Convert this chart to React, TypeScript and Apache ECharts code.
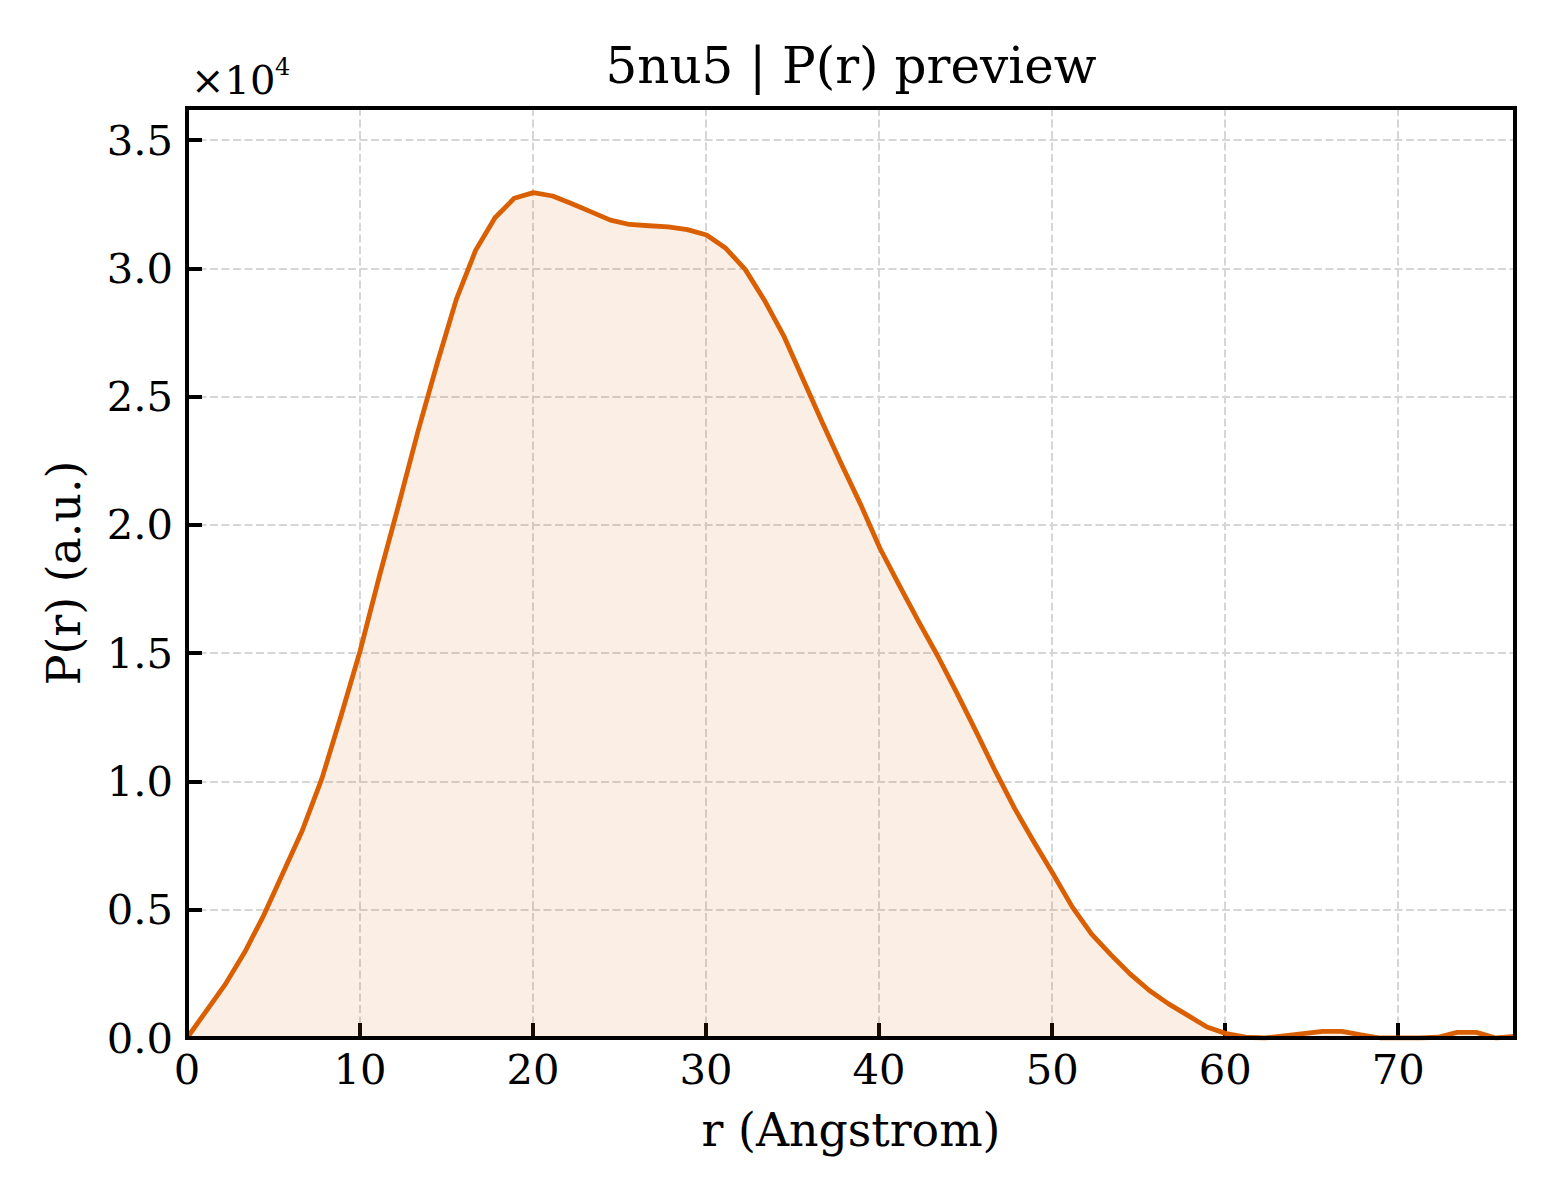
import React, { useEffect, useRef } from "react";
import * as echarts from "echarts";

const TITLE = "5nu5 | P(r) preview";
const X_LABEL = "r (Angstrom)";
const Y_LABEL = "P(r) (a.u.)";

// r grid (Angstrom)
const R = [
  0, 1.11, 2.22, 3.34, 4.45, 5.56, 6.67, 7.79, 8.9, 10.01,
  11.12, 12.24, 13.35, 14.46, 15.57, 16.68, 17.8, 18.91, 20.02, 21.13,
  22.25, 23.36, 24.47, 25.58, 26.7, 27.81, 28.92, 30.03, 31.14, 32.26,
  33.37, 34.48, 35.59, 36.71, 37.82, 38.93, 40.04, 41.16, 42.27, 43.38,
  44.49, 45.6, 46.72, 47.83, 48.94, 50.05, 51.17, 52.28, 53.39, 54.5,
  55.62, 56.73, 57.84, 58.95, 60.06, 61.18, 62.29, 63.4, 64.51, 65.63,
  66.74, 67.85, 68.96, 70.07, 71.19, 72.3, 73.41, 74.52, 75.64, 76.75,
];

// P(r) values (a.u.)
const P = [
  0, 1050, 2100, 3350, 4800, 6450, 8100, 10100, 12550, 15100,
  18000, 20800, 23650, 26300, 28800, 30700, 31970, 32730, 32950, 32820,
  32520, 32200, 31880, 31710, 31660, 31620, 31510, 31300, 30780, 29960,
  28760, 27380, 25700, 24000, 22370, 20800, 19100, 17650, 16250, 14900,
  13450, 11950, 10400, 8950, 7650, 6400, 5100, 4050, 3250, 2500,
  1850, 1330, 880, 430, 170, 30, 0, 80, 170, 260,
  260, 120, 0, 0, 0, 30, 220, 220, 0, 60,
];

const X_MIN = 0;
const X_MAX = 76.75;
const X_STEP = 10;
const Y_MIN = 0;
const Y_MAX = 36250;
const Y_STEP = 5000;

const LINE_COLOR = "#d95f02";
const FILL_COLOR = "rgba(217,95,2,0.15)";
const FONT = "'DejaVu Serif', 'Liberation Serif', serif";

const W = 1560;
const H = 1200;
const G_LEFT = 187;
const G_TOP = 108;
const G_RIGHT = 45;
const G_BOTTOM = 162;

export default function App() {
  const ref = useRef<HTMLDivElement>(null);

  useEffect(() => {
    document.body.style.margin = "0";
    if (!ref.current) return;
    const chart = echarts.init(ref.current, undefined, { renderer: "svg" });
    const data = R.map((r, i) => [r, P[i]]);
    const gw = W - G_LEFT - G_RIGHT;
    const gh = H - G_TOP - G_BOTTOM;
    const splitStyle = { color: "#d6d6d6", width: 2, type: [8, 3.5] as any };
    chart.setOption({
      animation: false,
      backgroundColor: "#ffffff",
      grid: { left: G_LEFT, top: G_TOP, right: G_RIGHT, bottom: G_BOTTOM, containLabel: false },
      xAxis: {
        type: "value",
        min: X_MIN,
        max: X_MAX,
        interval: X_STEP,
        name: X_LABEL,
        nameLocation: "middle",
        nameGap: 69,
        nameTextStyle: { fontFamily: FONT, fontSize: 45.8, color: "#000" },
        axisLine: { show: false },
        axisTick: { show: true, inside: true, length: 15, lineStyle: { color: "#000", width: 4 } },
        axisLabel: {
          show: true,
          margin: 10.5,
          fontFamily: FONT,
          fontSize: 41.7,
          color: "#000",
          showMaxLabel: false,
          formatter: (v: number) => (Math.abs(v % X_STEP) < 1e-9 ? String(v) : ""),
        },
        splitLine: { show: true, lineStyle: splitStyle },
      },
      yAxis: {
        type: "value",
        min: Y_MIN,
        max: Y_MAX,
        interval: Y_STEP,
        name: Y_LABEL,
        nameLocation: "middle",
        nameRotate: 90,
        nameGap: 100,
        nameTextStyle: { fontFamily: FONT, fontSize: 45.8, color: "#000" },
        axisLine: { show: false },
        axisTick: { show: true, inside: true, length: 15, lineStyle: { color: "#000", width: 4 } },
        axisLabel: {
          show: true,
          margin: 14,
          fontFamily: FONT,
          fontSize: 41.7,
          color: "#000",
          showMaxLabel: false,
          formatter: (v: number) => (Math.abs(v % Y_STEP) < 1e-9 ? (v / 1e4).toFixed(1) : ""),
        },
        splitLine: { show: true, lineStyle: splitStyle },
      },
      series: [
        {
          type: "line",
          data,
          showSymbol: false,
          smooth: false,
          lineStyle: { color: LINE_COLOR, width: 4.8, join: "round" },
          itemStyle: { color: LINE_COLOR },
          areaStyle: { color: FILL_COLOR, origin: "start" },
          z: 2,
        },
      ],
      graphic: [
        {
          type: "rect",
          silent: true,
          z: 100,
          shape: { x: G_LEFT, y: G_TOP, width: gw, height: gh },
          style: { fill: "none", stroke: "#000", lineWidth: 4 },
        },
        {
          type: "text",
          silent: true,
          z: 100,
          x: G_LEFT + gw / 2,
          y: 66,
          style: {
            text: TITLE,
            fontFamily: FONT,
            fontSize: 50,
            fill: "#000",
            align: "center",
            verticalAlign: "middle",
          },
        },
        {
          type: "text",
          silent: true,
          z: 100,
          x: 191,
          y: 79.5,
          style: {
            text: "×10",
            fontFamily: FONT,
            fontSize: 40,
            fill: "#000",
            align: "left",
            verticalAlign: "middle",
          },
        },
        {
          type: "text",
          silent: true,
          z: 100,
          x: 275,
          y: 67,
          style: {
            text: "4",
            fontFamily: FONT,
            fontSize: 24,
            fill: "#000",
            align: "left",
            verticalAlign: "middle",
          },
        },
      ],
    });
    return () => {
      chart.dispose();
    };
  }, []);

  return <div ref={ref} style={{ width: W, height: H, background: "#fff" }} />;
}
